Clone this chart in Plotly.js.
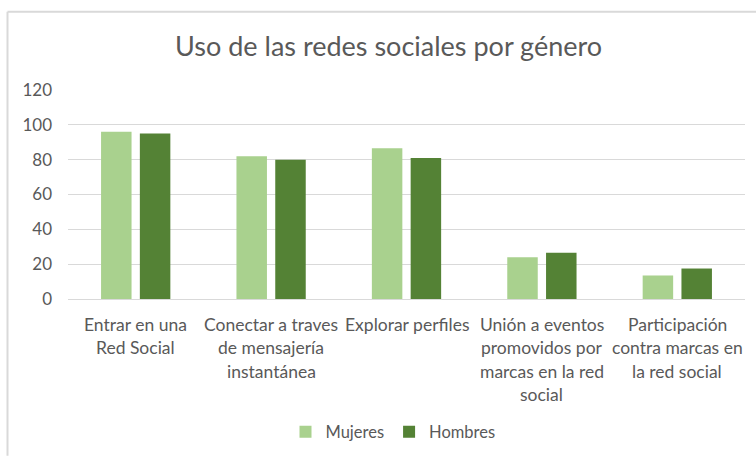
<!DOCTYPE html>
<html>
<head>
<meta charset="utf-8">
<script src="https://cdn.plot.ly/plotly-3.0.1.min.js"></script>
<style>html,body{margin:0;padding:0;background:#fff;}#chart{width:756px;height:461px;}</style>
</head>
<body>
<div id="chart"></div>
<script>
const categories = [
  "Entrar en una<br>Red Social",
  "Conectar a traves<br>de mensajería<br>instantánea",
  "Explorar perfiles",
  "Unión a eventos<br>promovidos por<br>marcas en la red<br>social",
  "Participación<br>contra marcas en<br>la red social"
];
const mujeres = [96, 82, 86.5, 24, 13.5];
const hombres = [95, 80, 81, 26.5, 17.5];
const yTicks = [0, 20, 40, 60, 80, 100, 120];

const FONT = "Lato, 'Open Sans', sans-serif";
const GRAY = "#595959";

const traces = [
  {type: "bar", name: "Mujeres", x: categories, y: mujeres, marker: {color: "#a9d18e"}, hoverinfo: "skip"},
  {type: "bar", name: "Hombres", x: categories, y: hombres, marker: {color: "#548235"}, hoverinfo: "skip"}
];

const annotations = [];
categories.forEach(function (cat) {
  cat.split("<br>").forEach(function (line, i) {
    annotations.push({
      text: line, x: cat, xref: "x", y: 0, yref: "paper",
      xanchor: "center", yanchor: "middle", yshift: -25 - i * 23.5,
      showarrow: false, font: {family: FONT, size: 17.5, color: GRAY}
    });
  });
});

const layout = {
  width: 756, height: 461,
  margin: {l: 68, r: 11, t: 90, b: 159},
  paper_bgcolor: "#fff", plot_bgcolor: "#fff",
  font: {family: FONT, color: GRAY, size: 17},
  title: {text: "Uso de las redes sociales por género", xref: "container", x: 0.514, xanchor: "center",
          yref: "container", y: 1 - 47 / 461, yanchor: "middle", font: {family: FONT, size: 27, color: GRAY}},
  barmode: "group", bargap: 0.427, bargroupgap: 0.214,
  xaxis: {type: "category", showticklabels: false, showgrid: false, zeroline: false, showline: false, ticks: ""},
  yaxis: {range: [0, 120], tickvals: yTicks, ticktext: yTicks.map(String), showgrid: true, gridcolor: "#d9d9d9", gridwidth: 1,
          zeroline: true, zerolinecolor: "#d9d9d9", zerolinewidth: 1, showline: false, ticks: "", ticklabelstandoff: 15,
          tickfont: {family: FONT, size: 17, color: GRAY}},
  showlegend: true,
  legend: {orientation: "h", x: (393 - 68) / 677, xanchor: "center", y: -(437 - 302) / 212, yanchor: "middle",
           font: {family: FONT, size: 16.5, color: GRAY}, itemwidth: 30, traceorder: "normal"},
  annotations: annotations,
  shapes: [
    {type: "line", xref: "paper", yref: "paper", x0: (7.5 - 68) / 677, x1: (7.5 - 68) / 677, y0: 1 + (90 - 10.5) / 212, y1: -(461 - 302) / 212,
     line: {color: "#d9d9d9", width: 2}},
    {type: "line", xref: "paper", yref: "paper", x0: (7.5 - 68) / 677, x1: (756 - 68) / 677, y0: 1 + (90 - 10.5) / 212, y1: 1 + (90 - 10.5) / 212,
     line: {color: "#d9d9d9", width: 2}}
  ]
};

Plotly.newPlot("chart", traces, layout, {displayModeBar: false, staticPlot: true});
</script>
</body>
</html>
